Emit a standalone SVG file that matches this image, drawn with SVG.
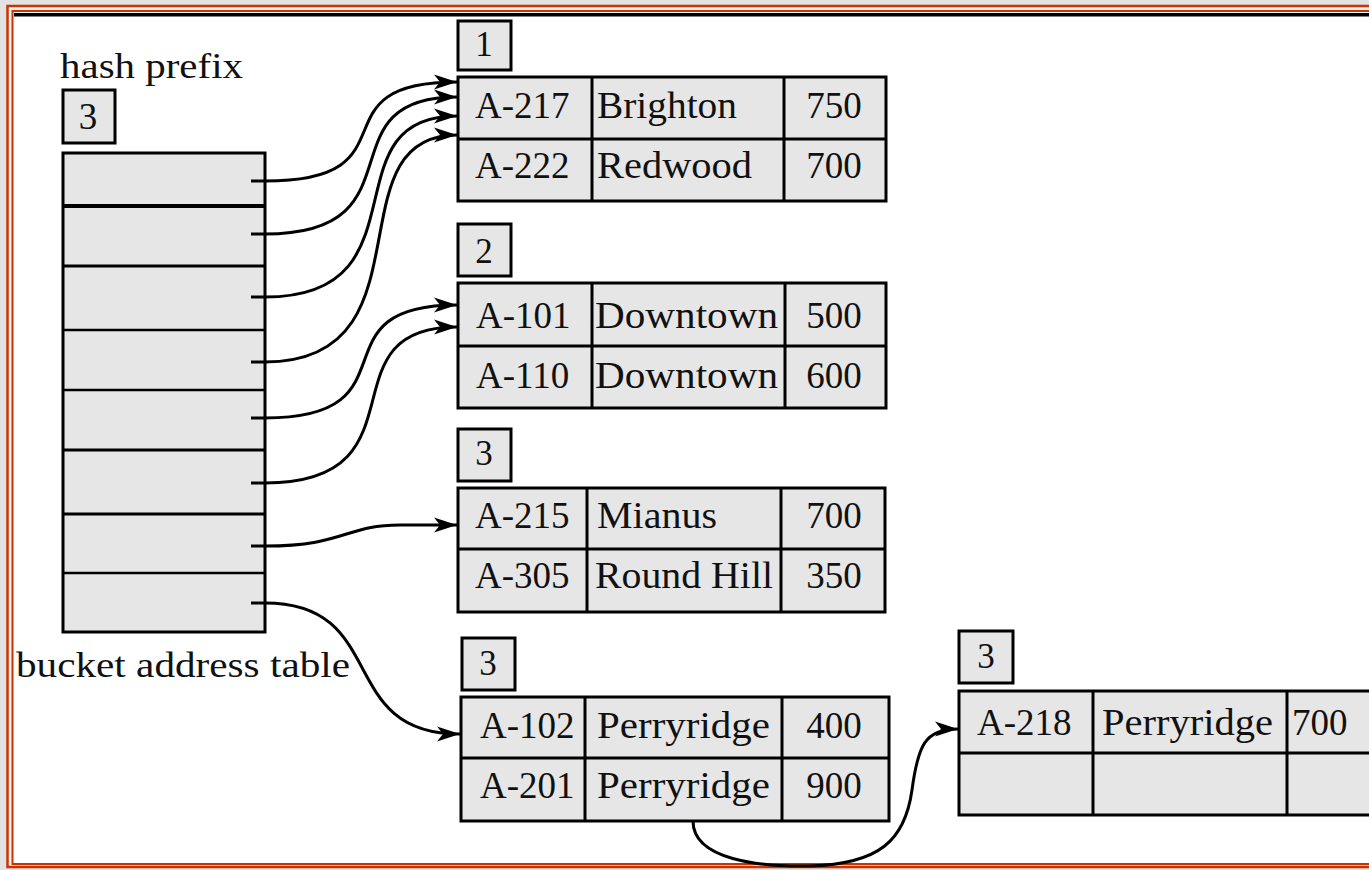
<svg xmlns="http://www.w3.org/2000/svg" width="1369" height="870" viewBox="0 0 1369 870">
<defs>
<style>
.cell{fill:#e6e6e6;stroke:#000;stroke-width:3}
.ln{stroke:#000;stroke-width:3;fill:none}
.t{font-family:"Liberation Serif","Times New Roman",serif;font-size:37px;fill:#111}
.d{font-family:"Liberation Serif","Times New Roman",serif;font-size:35px;fill:#111;text-anchor:middle}
.lbl{font-family:"Liberation Serif","Times New Roman",serif;font-size:36px;fill:#111}
.c{fill:none;stroke:#000;stroke-width:3}
.n{text-anchor:middle}
</style>
<marker id="ah" markerUnits="userSpaceOnUse" markerWidth="26" markerHeight="18" refX="23" refY="9" orient="auto" viewBox="0 0 26 18">
<path d="M0,1.5 L23,9 L0,16.5 L6,9 Z" fill="#000"/>
</marker>
</defs>
<g id="frame">
<rect x="0" y="0" width="1369" height="870" fill="#e2e2e2"/>
<rect x="7.5" y="6" width="1380" height="861" fill="#f2f2f2" stroke="#cc3300" stroke-width="2.5"/>
<rect x="12.5" y="11" width="1380" height="853" fill="#ffffff" stroke="#cc3300" stroke-width="2"/>
<rect x="14" y="13" width="1369" height="3.5" fill="#000"/>
</g>
<g id="hash-prefix">
<text class="lbl" x="60" y="78" textLength="183" lengthAdjust="spacingAndGlyphs">hash prefix</text>
<rect class="cell" x="63" y="90" width="52" height="53"/>
<text class="d" x="88" y="129" style="font-size:37px">3</text>
</g>
<g id="bucket-address-table">
<rect class="cell" x="63" y="153" width="202" height="479"/>
<line class="ln" x1="63" y1="206" x2="265" y2="206" style="stroke-width:4"/>
<line class="ln" x1="63" y1="266" x2="265" y2="266"/>
<line class="ln" x1="63" y1="330" x2="265" y2="330" style="stroke-width:2.5"/>
<line class="ln" x1="63" y1="390" x2="265" y2="390" style="stroke-width:2.5"/>
<line class="ln" x1="63" y1="450" x2="265" y2="450"/>
<line class="ln" x1="63" y1="514" x2="265" y2="514"/>
<line class="ln" x1="63" y1="573" x2="265" y2="573" style="stroke-width:2.5"/>
<text class="lbl" x="16" y="677" textLength="334" lengthAdjust="spacingAndGlyphs">bucket address table</text>
</g>
<g id="bucket1">
<rect class="cell" x="458" y="21" width="53" height="49"/>
<text class="d" x="484" y="56">1</text>
<rect class="cell" x="458" y="77" width="428" height="124"/>
<line class="ln" x1="458" y1="139" x2="886" y2="139"/>
<line class="ln" x1="592" y1="77" x2="592" y2="201"/>
<line class="ln" x1="784" y1="77" x2="784" y2="201"/>
<text class="t" x="475" y="118">A-217</text>
<text class="t" x="597" y="118" textLength="140" lengthAdjust="spacingAndGlyphs">Brighton</text>
<text class="t n" x="834" y="118">750</text>
<text class="t" x="475" y="178">A-222</text>
<text class="t" x="597" y="178" textLength="155" lengthAdjust="spacingAndGlyphs">Redwood</text>
<text class="t n" x="834" y="178">700</text>
</g>
<g id="bucket2">
<rect class="cell" x="458" y="224" width="53" height="52"/>
<text class="d" x="484" y="263">2</text>
<rect class="cell" x="458" y="283" width="428" height="125"/>
<line class="ln" x1="458" y1="346" x2="886" y2="346"/>
<line class="ln" x1="592" y1="283" x2="592" y2="408"/>
<line class="ln" x1="785" y1="283" x2="785" y2="408"/>
<text class="t" x="476" y="328">A-101</text>
<text class="t" x="595" y="328" textLength="183" lengthAdjust="spacingAndGlyphs">Downtown</text>
<text class="t n" x="834" y="328">500</text>
<text class="t" x="476" y="388">A-110</text>
<text class="t" x="595" y="388" textLength="183" lengthAdjust="spacingAndGlyphs">Downtown</text>
<text class="t n" x="834" y="388">600</text>
</g>
<g id="bucket3">
<rect class="cell" x="458" y="429" width="53" height="52"/>
<text class="d" x="484" y="465">3</text>
<rect class="cell" x="458" y="488" width="427" height="124"/>
<line class="ln" x1="458" y1="549" x2="885" y2="549"/>
<line class="ln" x1="587" y1="488" x2="587" y2="612"/>
<line class="ln" x1="781" y1="488" x2="781" y2="612"/>
<text class="t" x="475" y="528">A-215</text>
<text class="t" x="597" y="528" textLength="120" lengthAdjust="spacingAndGlyphs">Mianus</text>
<text class="t n" x="834" y="528">700</text>
<text class="t" x="475" y="588">A-305</text>
<text class="t" x="595" y="588" textLength="178" lengthAdjust="spacingAndGlyphs">Round Hill</text>
<text class="t n" x="834" y="588">350</text>
</g>
<g id="bucket4">
<rect class="cell" x="462" y="638" width="53" height="52"/>
<text class="d" x="488" y="675">3</text>
<rect class="cell" x="461" y="697" width="428" height="124"/>
<line class="ln" x1="461" y1="758" x2="889" y2="758"/>
<line class="ln" x1="585" y1="697" x2="585" y2="821"/>
<line class="ln" x1="782" y1="697" x2="782" y2="821"/>
<text class="t" x="480" y="738">A-102</text>
<text class="t" x="597" y="738" textLength="173" lengthAdjust="spacingAndGlyphs">Perryridge</text>
<text class="t n" x="834" y="738">400</text>
<text class="t" x="480" y="798">A-201</text>
<text class="t" x="597" y="798" textLength="173" lengthAdjust="spacingAndGlyphs">Perryridge</text>
<text class="t n" x="834" y="798">900</text>
</g>
<g id="overflow-bucket">
<rect class="cell" x="959" y="631" width="54" height="52"/>
<text class="d" x="986" y="668">3</text>
<rect class="cell" x="959" y="691" width="440" height="124"/>
<line class="ln" x1="959" y1="753" x2="1369" y2="753"/>
<line class="ln" x1="1093" y1="691" x2="1093" y2="815"/>
<line class="ln" x1="1287" y1="691" x2="1287" y2="815"/>
<text class="t" x="977" y="735">A-218</text>
<text class="t" x="1102" y="735" textLength="171" lengthAdjust="spacingAndGlyphs">Perryridge</text>
<text class="t" x="1292" y="735">700</text>
</g>
<g id="connectors">
<path class="c" marker-end="url(#ah)" d="M251,181 L265,181 C420,181 310,82 457,82"/>
<path class="c" marker-end="url(#ah)" d="M251,234 L265,234 C425,234 320,97 457,97"/>
<path class="c" marker-end="url(#ah)" d="M251,297 L265,297 C430,297 325,116 457,116"/>
<path class="c" marker-end="url(#ah)" d="M251,362 L265,362 C435,362 330,135 457,135"/>
<path class="c" marker-end="url(#ah)" d="M251,418 L265,418 C420,418 310,305 457,305"/>
<path class="c" marker-end="url(#ah)" d="M251,483 L265,483 C430,483 320,327 457,327"/>
<path class="c" marker-end="url(#ah)" d="M251,546 L265,546 C345,546 345,525 400,525 L457,525"/>
<path class="c" marker-end="url(#ah)" d="M251,603 L265,603 C390,603 335,734 460,734"/>
<path class="c" marker-end="url(#ah)" d="M693,821 C693,860 760,867 810,866 C880,864 905,840 912,790 C918,745 925,729 958,729"/>
</g>
</svg>
